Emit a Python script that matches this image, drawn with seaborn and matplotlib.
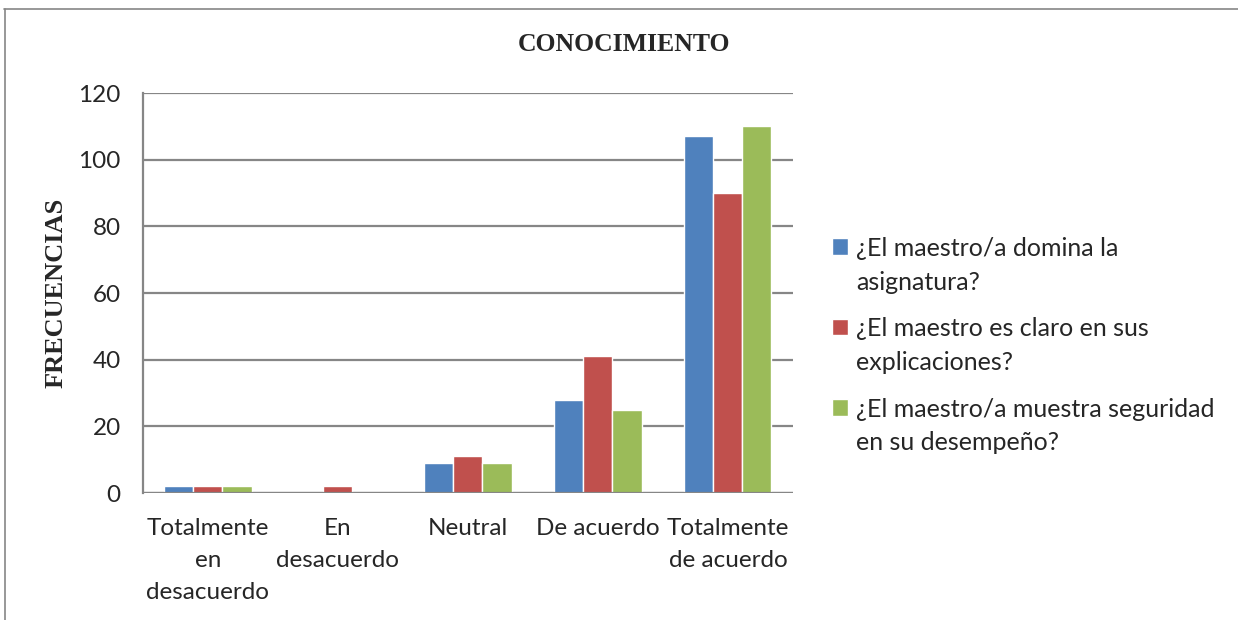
import numpy as np
import pandas as pd
import matplotlib
matplotlib.use('Agg')
import matplotlib.pyplot as plt
import matplotlib.patches as mpatches
from matplotlib.legend_handler import HandlerPatch
import seaborn as sns
from matplotlib.lines import Line2D

# données
categorias = ['Totalmente\nen\ndesacuerdo', 'En\ndesacuerdo', 'Neutral',
              'De acuerdo', 'Totalmente\nde acuerdo']
series = ['¿El maestro/a domina la\nasignatura?',
          '¿El maestro es claro en sus\nexplicaciones?',
          '¿El maestro/a muestra seguridad\nen su desempeño?']
domina = [2, 0, 9, 28, 107]
claro = [2, 2, 11, 41, 90]
seguridad = [2, 0, 9, 25, 110]
colores = ['#4F81BD', '#C0504D', '#9BBB59']

df = pd.DataFrame({
    'categoria': categorias * 3,
    'serie': [series[0]] * 5 + [series[1]] * 5 + [series[2]] * 5,
    'valor': domina + claro + seguridad,
})

sns.set_style('white')
plt.rcParams['font.family'] = ['Lato', 'DejaVu Sans']

fig = plt.figure(figsize=(12.38, 6.2), dpi=100)
ax = fig.add_axes([0.1155, 0.2048, 0.525, 0.6452])

sns.barplot(data=df, x='categoria', y='valor', hue='serie', order=categorias,
            hue_order=series, palette=colores, width=0.67, saturation=1,
            ax=ax, zorder=3)

ax.set_ylim(0, 120)
ax.set_yticks(range(0, 121, 20))
ax.set_xlim(-0.5, 4.5)
ax.grid(axis='y', color='#868686', linewidth=1.6, zorder=0)
for s in ['top', 'right', 'bottom']:
    ax.spines[s].set_visible(False)
ax.spines['left'].set_color('#868686')
ax.spines['left'].set_linewidth(1.6)
ax.axhline(0, color='#868686', linewidth=1.6, zorder=4)
ax.tick_params(axis='y', length=7, width=1.6, color='#868686', labelsize=17.5, pad=9)
ax.tick_params(axis='x', length=0, labelsize=17.5, pad=18)
for lab in ax.get_xticklabels():
    lab.set_linespacing(1.66)

ax.set_xlabel('')
ax.set_ylabel('FRECUENCIAS', family='Liberation Serif', fontweight='bold',
              fontsize=19, labelpad=8)
ax.set_title('CONOCIMIENTO', family='Liberation Serif', fontweight='bold',
             fontsize=18.5, pad=30, x=0.74)


# carré de la légende remonté au niveau de la première ligne du texte
def carre_haut(legend, orig_handle, xdescent, ydescent, width, height, fontsize):
    decal = 0.78 * fontsize
    return mpatches.Rectangle((-xdescent, -ydescent + decal), width, height)


leg = ax.legend(loc='upper left', bbox_to_anchor=(1.045, 0.665), frameon=False,
                fontsize=18, handlelength=0.65, handleheight=0.65,
                handletextpad=0.3, labelspacing=0.95, borderaxespad=0,
                handler_map={mpatches.Rectangle: HandlerPatch(patch_func=carre_haut)})
for t in leg.get_texts():
    t.set_linespacing(1.56)

# cadre de la zone du graphique (haut et gauche)
fig.add_artist(Line2D([0.003, 1.0], [0.985, 0.985], color='#868686', linewidth=1.2))
fig.add_artist(Line2D([0.004, 0.004], [0.0, 0.985], color='#868686', linewidth=1.2))

fig.savefig('out.png', dpi=100)
